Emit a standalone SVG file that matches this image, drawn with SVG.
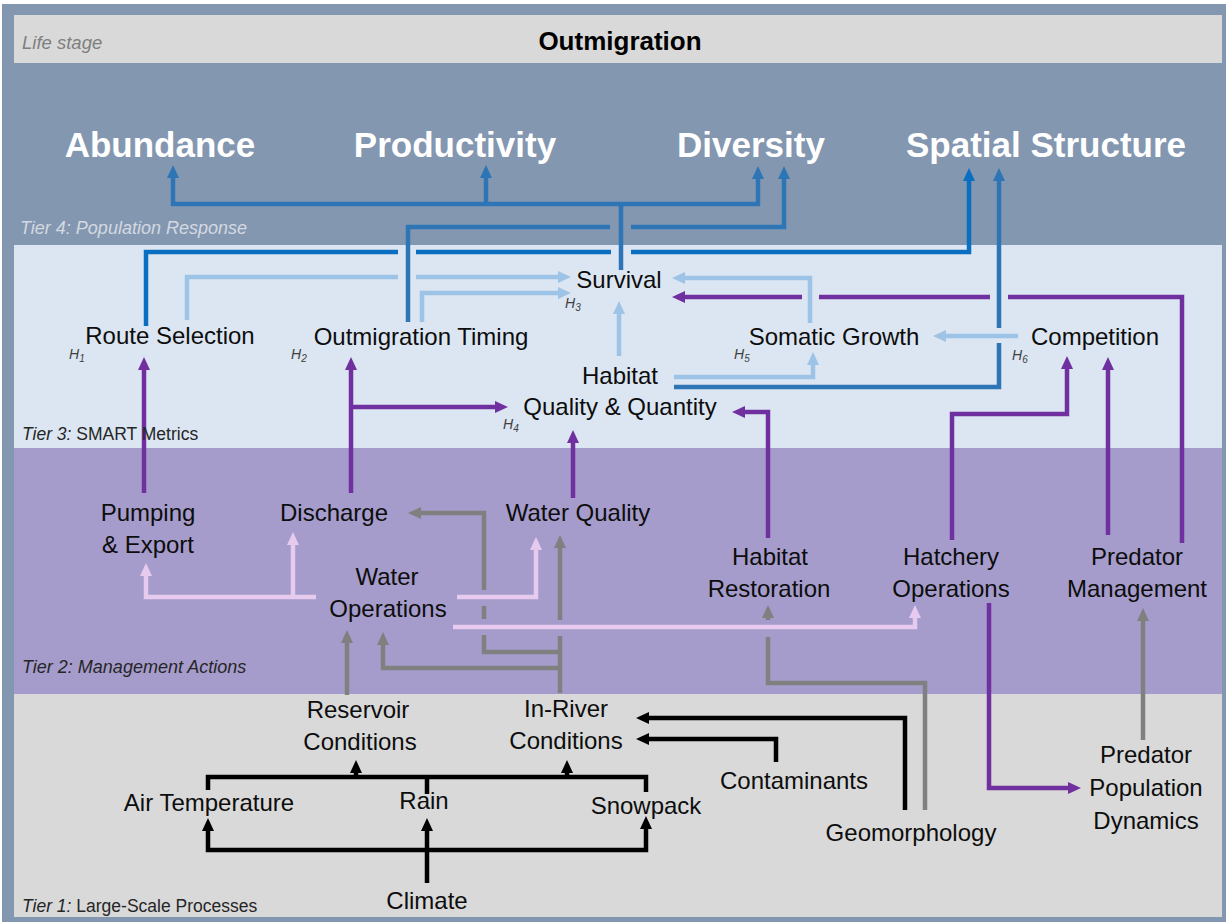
<svg xmlns="http://www.w3.org/2000/svg" width="1226" height="922" viewBox="0 0 1226 922">
<style>
text{font-family:"Liberation Sans",Arial,sans-serif}
.n{font-size:24px;fill:#0d0d0d;text-anchor:middle}
.big{font-size:35px;font-weight:bold;fill:#ffffff;text-anchor:middle}
.tier{font-size:17.5px;fill:#262626}
.it{font-style:italic}
.h{font-style:italic;font-size:14px;fill:#404040}
.c{fill:none;stroke-width:4.5;stroke-linejoin:miter;stroke-linecap:butt}
.db{stroke:#2e75b6}
.ss{stroke:#0a6fc0}
.lb{stroke:#9dc3e6}
.pu{stroke:#7030a0}
.pk{stroke:#e6cbef}
.gr{stroke:#808080}
.bk{stroke:#000000}
</style>
<defs>
<marker id="aDB" viewBox="0 0 13 12" refX="7" refY="6" markerWidth="13" markerHeight="12" markerUnits="userSpaceOnUse" orient="auto"><path d="M0,0L13,6L0,12z" fill="#2e75b6"/></marker>
<marker id="aSS" viewBox="0 0 13 12" refX="7" refY="6" markerWidth="13" markerHeight="12" markerUnits="userSpaceOnUse" orient="auto"><path d="M0,0L13,6L0,12z" fill="#0a6fc0"/></marker>
<marker id="aLB" viewBox="0 0 13 12" refX="7" refY="6" markerWidth="13" markerHeight="12" markerUnits="userSpaceOnUse" orient="auto"><path d="M0,0L13,6L0,12z" fill="#9dc3e6"/></marker>
<marker id="aPU" viewBox="0 0 13 12" refX="7" refY="6" markerWidth="13" markerHeight="12" markerUnits="userSpaceOnUse" orient="auto"><path d="M0,0L13,6L0,12z" fill="#7030a0"/></marker>
<marker id="aPK" viewBox="0 0 13 12" refX="7" refY="6" markerWidth="13" markerHeight="12" markerUnits="userSpaceOnUse" orient="auto"><path d="M0,0L13,6L0,12z" fill="#e6cbef"/></marker>
<marker id="aGR" viewBox="0 0 13 12" refX="7" refY="6" markerWidth="13" markerHeight="12" markerUnits="userSpaceOnUse" orient="auto"><path d="M0,0L13,6L0,12z" fill="#808080"/></marker>
<marker id="aBK" viewBox="0 0 13 12" refX="7" refY="6" markerWidth="13" markerHeight="12" markerUnits="userSpaceOnUse" orient="auto"><path d="M0,0L13,6L0,12z" fill="#000000"/></marker>
</defs>

<g id="background">
<rect x="0" y="0" width="1226" height="922" fill="#ffffff"/>
<rect x="2" y="4" width="1224" height="918" fill="#8497b0"/>
<rect x="14" y="15" width="1208" height="48" fill="#d9d9d9"/>
<rect x="14" y="245" width="1208" height="203" fill="#dce6f2"/>
<rect x="14" y="448" width="1208" height="246" fill="#a59ccc"/>
<rect x="14" y="694" width="1208" height="223" fill="#d9d9d9"/>
</g>

<g id="connectors">
<!-- Tier 4: dark blue -->
<path class="c db" d="M621,270V204"/>
<path class="c db" d="M621,204H173V171" marker-end="url(#aDB)"/>
<path class="c db" d="M486,204V171" marker-end="url(#aDB)"/>
<path class="c db" d="M621,204H758V172" marker-end="url(#aDB)"/>
<path class="c db" d="M408,322V227H610"/>
<path class="c db" d="M631,227H784V172" marker-end="url(#aDB)"/>
<path class="c ss" d="M146,326V252H398"/>
<path class="c ss" d="M416,252H611"/>
<path class="c ss" d="M631,252H969V174" marker-end="url(#aSS)"/>
<path class="c db" d="M674,387H999V343"/>
<path class="c db" d="M999,328V174" marker-end="url(#aDB)"/>
<!-- light blue -->
<path class="c lb" d="M187,320V277H398"/>
<path class="c lb" d="M416,277H565" marker-end="url(#aLB)"/>
<path class="c lb" d="M422,322V293H565" marker-end="url(#aLB)"/>
<path class="c lb" d="M619,356V307" marker-end="url(#aLB)"/>
<path class="c lb" d="M810,323V278H678" marker-end="url(#aLB)"/>
<path class="c lb" d="M674,377H813V358" marker-end="url(#aLB)"/>
<path class="c lb" d="M1018,336H939" marker-end="url(#aLB)"/>
<!-- purple -->
<path class="c pu" d="M1182,543V297H1008"/>
<path class="c pu" d="M990,297H819"/>
<path class="c pu" d="M802,297H678" marker-end="url(#aPU)"/>
<path class="c pu" d="M1108,535V363" marker-end="url(#aPU)"/>
<path class="c pu" d="M952,540V414H1067V362" marker-end="url(#aPU)"/>
<path class="c pu" d="M768,538V412H738" marker-end="url(#aPU)"/>
<path class="c pu" d="M573,498V436" marker-end="url(#aPU)"/>
<path class="c pu" d="M351,493V363" marker-end="url(#aPU)"/>
<path class="c pu" d="M351,407H502" marker-end="url(#aPU)"/>
<path class="c pu" d="M144,493V363" marker-end="url(#aPU)"/>
<path class="c pu" d="M989,603V788H1075" marker-end="url(#aPU)"/>
<!-- gray -->
<path class="c gr" d="M347,695V636" marker-end="url(#aGR)"/>
<path class="c gr" d="M560,693V636"/>
<path class="c gr" d="M560,620V541" marker-end="url(#aGR)"/>
<path class="c gr" d="M560,668H383V638" marker-end="url(#aGR)"/>
<path class="c gr" d="M560,652H484V635"/>
<path class="c gr" d="M484,619V606"/>
<path class="c gr" d="M484,590V513H414" marker-end="url(#aGR)"/>
<path class="c gr" d="M925,810V683H768V637"/>
<path class="c gr" d="M768,620V611" marker-end="url(#aGR)"/>
<path class="c gr" d="M1143,740V614" marker-end="url(#aGR)"/>
<!-- light pink -->
<path class="c pk" d="M316,597H146V569" marker-end="url(#aPK)"/>
<path class="c pk" d="M293,597V538" marker-end="url(#aPK)"/>
<path class="c pk" d="M457,597H536V543" marker-end="url(#aPK)"/>
<path class="c pk" d="M453,627H915V611" marker-end="url(#aPK)"/>
<!-- black -->
<path class="c bk" d="M427,883V824" marker-end="url(#aBK)"/>
<path class="c bk" d="M427,850H208V824" marker-end="url(#aBK)"/>
<path class="c bk" d="M427,850H646V822" marker-end="url(#aBK)"/>
<path class="c bk" d="M208,790V777H646V792"/>
<path class="c bk" d="M427,794V777"/>
<path class="c bk" d="M356,777V766" marker-end="url(#aBK)"/>
<path class="c bk" d="M567,777V766" marker-end="url(#aBK)"/>
<path class="c bk" d="M905,810V718H642" marker-end="url(#aBK)"/>
<path class="c bk" d="M776,762V739H642" marker-end="url(#aBK)"/>
</g>

<g id="tier-labels">
<text x="22" y="49" class="it" font-size="18.5" fill="#7f7f7f">Life stage</text>
<text x="620" y="50" font-size="26" font-weight="bold" fill="#000" text-anchor="middle">Outmigration</text>
<text x="20" y="234" class="tier it" style="fill:#d3d9e2;font-size:18px">Tier 4: Population Response</text>
<text x="22" y="440" class="tier"><tspan class="it">Tier 3:</tspan> SMART Metrics</text>
<text x="22" y="673" class="tier it" style="font-size:18px">Tier 2: Management Actions</text>
<text x="22" y="912" class="tier"><tspan class="it">Tier 1:</tspan> Large-Scale Processes</text>
</g>

<g id="abundance"><text class="big" x="160" y="157">Abundance</text></g>
<g id="productivity"><text class="big" x="455" y="157">Productivity</text></g>
<g id="diversity"><text class="big" x="751" y="157">Diversity</text></g>
<g id="spatial-structure"><text class="big" x="1046" y="157">Spatial Structure</text></g>

<g id="route-selection"><text class="n" x="170" y="344">Route Selection</text><text class="h" x="69" y="359">H<tspan font-size="10" dy="3">1</tspan></text></g>
<g id="outmigration-timing"><text class="n" x="421" y="345">Outmigration Timing</text><text class="h" x="291" y="359">H<tspan font-size="10" dy="3">2</tspan></text></g>
<g id="survival"><text class="n" x="619" y="288">Survival</text><text class="h" x="565" y="308">H<tspan font-size="10" dy="3">3</tspan></text></g>
<g id="habitat-quality"><text class="n" x="620" y="384">Habitat</text><text class="n" x="620" y="415">Quality &amp; Quantity</text><text class="h" x="503" y="429">H<tspan font-size="10" dy="3">4</tspan></text></g>
<g id="somatic-growth"><text class="n" x="834" y="345">Somatic Growth</text><text class="h" x="734" y="359">H<tspan font-size="10" dy="3">5</tspan></text></g>
<g id="competition"><text class="n" x="1095" y="345">Competition</text><text class="h" x="1012" y="360">H<tspan font-size="10" dy="3">6</tspan></text></g>

<g id="pumping-export"><text class="n" x="148" y="521">Pumping</text><text class="n" x="148" y="553">&amp; Export</text></g>
<g id="discharge"><text class="n" x="334" y="521">Discharge</text></g>
<g id="water-quality"><text class="n" x="578" y="521">Water Quality</text></g>
<g id="water-operations"><text class="n" x="387" y="585">Water</text><text class="n" x="388" y="617">Operations</text></g>
<g id="habitat-restoration"><text class="n" x="770" y="565">Habitat</text><text class="n" x="769" y="597">Restoration</text></g>
<g id="hatchery-operations"><text class="n" x="951" y="565">Hatchery</text><text class="n" x="951" y="597">Operations</text></g>
<g id="predator-management"><text class="n" x="1137" y="565">Predator</text><text class="n" x="1137" y="597">Management</text></g>

<g id="reservoir-conditions"><text class="n" x="358" y="718">Reservoir</text><text class="n" x="360" y="750">Conditions</text></g>
<g id="in-river-conditions"><text class="n" x="566" y="717">In-River</text><text class="n" x="566" y="749">Conditions</text></g>
<g id="contaminants"><text class="n" x="794" y="789">Contaminants</text></g>
<g id="air-temperature"><text class="n" x="209" y="811">Air Temperature</text></g>
<g id="rain"><text class="n" x="424" y="809">Rain</text></g>
<g id="snowpack"><text class="n" x="646" y="814">Snowpack</text></g>
<g id="geomorphology"><text class="n" x="911" y="841">Geomorphology</text></g>
<g id="climate"><text class="n" x="427" y="909">Climate</text></g>
<g id="predator-population-dynamics"><text class="n" x="1146" y="763">Predator</text><text class="n" x="1146" y="796">Population</text><text class="n" x="1146" y="829">Dynamics</text></g>
</svg>
